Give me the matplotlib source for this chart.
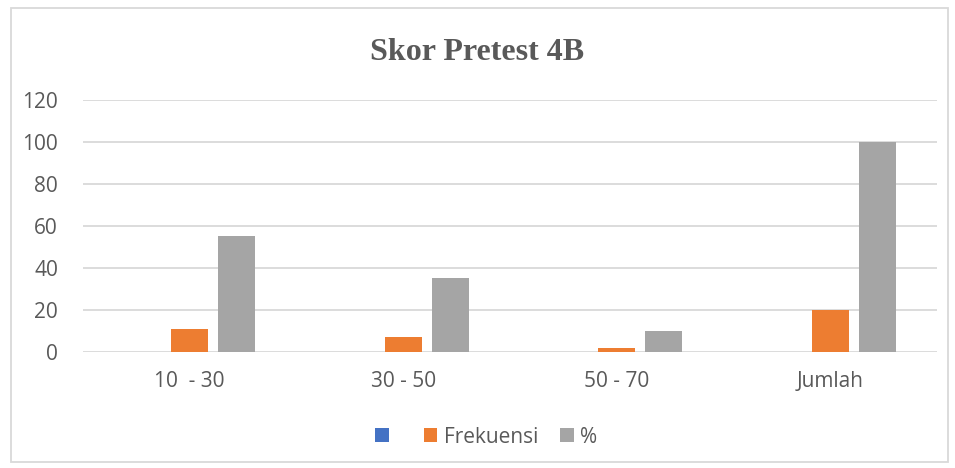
import matplotlib.pyplot as plt
import numpy as np
from matplotlib.patches import Rectangle

categories = ['10  - 30', '30 - 50', '50 - 70', 'Jumlah']
blank = [0, 0, 0, 0]
frekuensi = [11, 7, 2, 20]
persen = [55, 35, 10, 100]
yticks = [0, 20, 40, 60, 80, 100, 120]

text_color = '#595959'
grid_color = '#d9d9d9'

fig = plt.figure(figsize=(9.55, 4.68), dpi=100)
ax = fig.add_axes([0.0869, 0.2479, 0.8941, 0.5384])

x = np.arange(len(categories))
w = 0.173
step = 0.22
b0 = ax.bar(x - step, blank, w, color='#4472c4')
b1 = ax.bar(x, frekuensi, w, color='#ed7d31')
b2 = ax.bar(x + step, persen, w, color='#a5a5a5')

ax.set_xlim(-0.5, len(categories) - 0.5)
ax.set_ylim(0, 120)
ax.set_yticks(yticks)
ax.set_xticks(x)
ax.set_xticklabels(categories)
ax.yaxis.grid(True, color=grid_color, linewidth=1.3)
ax.set_axisbelow(True)
for s in ax.spines.values():
    s.set_visible(False)
ax.tick_params(length=0, labelsize=15, colors=text_color)
for lab in ax.get_xticklabels() + ax.get_yticklabels():
    lab.set_fontfamily('Open Sans')
ax.tick_params(axis='y', pad=18)
ax.tick_params(axis='x', pad=14)

fig.text(0.5, 0.887, 'Skor Pretest 4B', ha='center', va='center',
         fontsize=23, fontweight='bold', color=text_color, family='Liberation Serif')

leg = fig.legend([b0, b1, b2], ['\u2009\u2009', 'Frekuensi', '%'], loc='center',
                 bbox_to_anchor=(0.509, 0.066), ncol=3, frameon=False,
                 prop={'family': 'Open Sans', 'size': 15}, handlelength=0.65,
                 handleheight=0.65, columnspacing=1.05, handletextpad=0.3)
for t in leg.get_texts():
    t.set_color(text_color)

fig.patches.append(Rectangle((0.011, 0.013), 0.982, 0.97, transform=fig.transFigure,
                             fill=False, edgecolor=grid_color, linewidth=1.3))

fig.savefig('out.png', dpi=100)
